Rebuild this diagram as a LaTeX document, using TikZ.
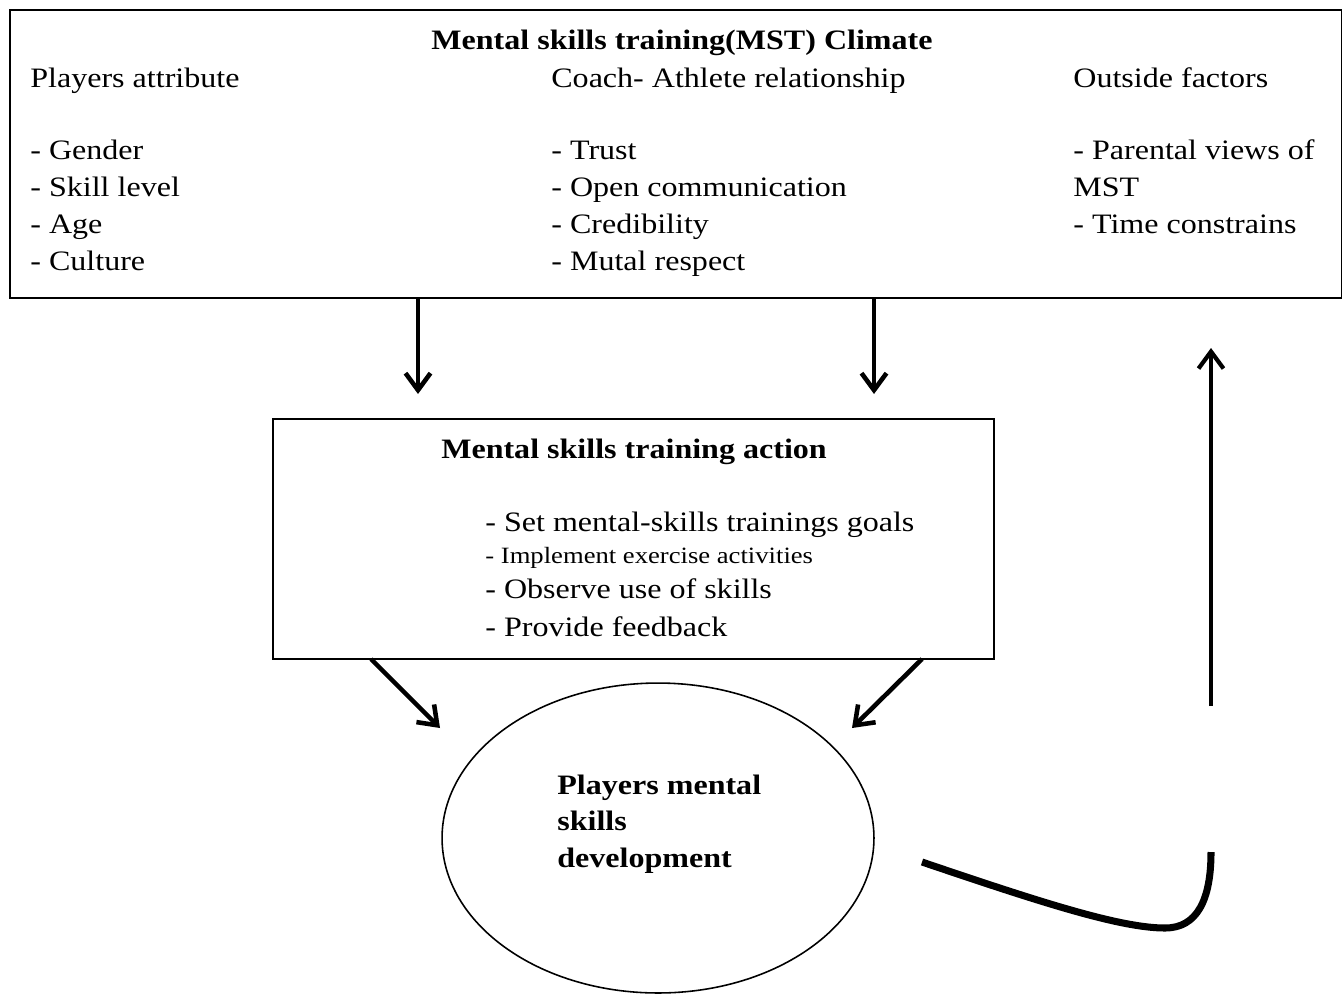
\documentclass[tikz,border=0pt]{standalone}
\usepackage{fontspec}
\setmainfont{Liberation Serif}[FakeStretch=1.14]
\usetikzlibrary{arrows.meta,shapes.geometric}

\tikzset{
    box/.style={draw, line width=0.8pt, inner sep=0pt, outer sep=0pt, anchor=north west},
    txt/.style={anchor=base west, inner sep=0pt, font=\fontsize{16}{21}\selectfont},
    smalltxt/.style={anchor=base west, inner sep=0pt, font=\fontsize{13.3}{17}\selectfont},
    boldtxt/.style={anchor=base west, inner sep=0pt, font=\fontsize{16}{21}\selectfont\bfseries},
    hdr/.style={anchor=base, inner sep=0pt, font=\fontsize{16}{21}\selectfont\bfseries},
    arr/.style={line width=2.6pt, -{Straight Barb[length=0.34cm, width=0.5cm]}},
}

\begin{document}
\begin{tikzpicture}[x=0.02cm, y=-0.02cm]
    \useasboundingbox (0,0) rectangle (1344,994);

    % climate box
    \node[box, minimum width=26.64cm, minimum height=5.76cm] (climate) at (10,10) {};
    \node[hdr] (climatetitle) at (682,49) {Mental skills training(MST) Climate};
    \node[txt] (pa)  at (30,87)  {Players attribute};
    \node[txt] (pa1) at (30,159) {- Gender};
    \node[txt] (pa2) at (30,196) {- Skill level};
    \node[txt] (pa3) at (30,233) {- Age};
    \node[txt] (pa4) at (30,270) {- Culture};
    \node[txt] (ca)  at (551,87)  {Coach- Athlete relationship};
    \node[txt] (ca1) at (551,159) {- Trust};
    \node[txt] (ca2) at (551,196) {- Open communication};
    \node[txt] (ca3) at (551,233) {- Credibility};
    \node[txt] (ca4) at (551,270) {- Mutal respect};
    \node[txt] (of)  at (1073,87)  {Outside factors};
    \node[txt] (of1) at (1073,159) {- Parental views of};
    \node[txt] (of2) at (1073,196) {MST};
    \node[txt] (of3) at (1073,233) {- Time constrains};

    % action box
    \node[box, minimum width=14.42cm, minimum height=4.8cm] (action) at (273,419) {};
    \node[hdr] (actiontitle) at (634,458) {Mental skills training action};
    \node[txt]      (ac1) at (485,531) {- Set mental-skills trainings goals};
    \node[smalltxt] (ac2) at (485,563) {- Implement exercise activities};
    \node[txt]      (ac3) at (485,598) {- Observe use of skills};
    \node[txt]      (ac4) at (485,636) {- Provide feedback};

    % development ellipse
    \node[draw, ellipse, line width=0.9pt, inner sep=0pt, minimum width=8.64cm, minimum height=6.2cm] (dev) at (658,838) {};
    \node[boldtxt] (dev1) at (557,794) {Players mental};
    \node[boldtxt] (dev2) at (557,830) {skills};
    \node[boldtxt] (dev3) at (557,867) {development};

    % connector ends
    \coordinate (e1) at (418,394);
    \coordinate (e2) at (874,394);
    \coordinate (s3) at (371,659);
    \coordinate (e3) at (440,728);
    \coordinate (s4) at (922,659);
    \coordinate (e4) at (852,728);
    \coordinate (c1) at (922,862);
    \coordinate (c2) at (1211,852);
    \coordinate (u1) at (1211,706);
    \coordinate (u2) at (1211,348);

    \draw[arr] (climate.south -| e1) -- (e1);
    \draw[arr] (climate.south -| e2) -- (e2);
    \draw[arr] (s3) -- (e3);
    \draw[arr] (s4) -- (e4);
    \draw[line width=4pt] (c1) .. controls (1040,902) and (1120,928) .. (1165,928)
                               .. controls (1197,928) and (1211,900) .. (c2);
    \draw[arr, line width=2.4pt] (u1) -- (u2);
\end{tikzpicture}
\end{document}
